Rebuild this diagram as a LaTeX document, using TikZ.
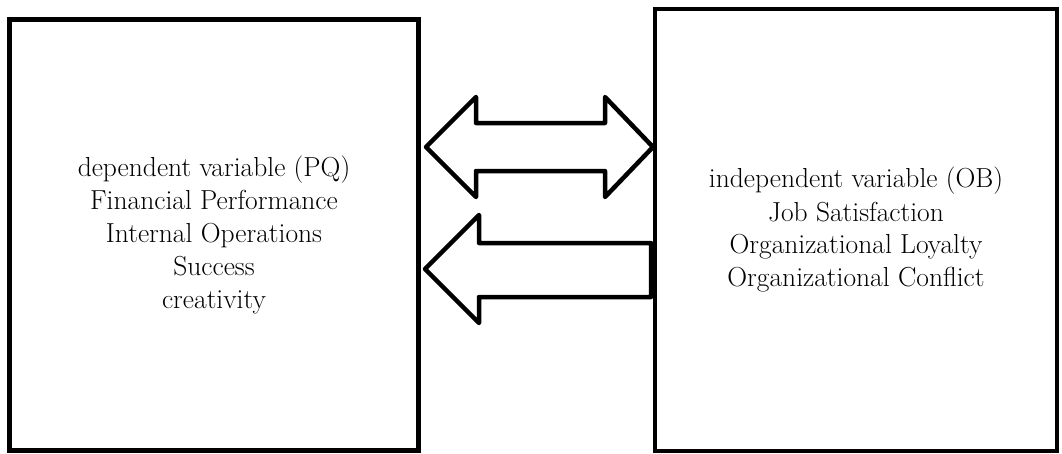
\documentclass[tikz,border=0pt]{standalone}
\usepackage{fontspec}
\usepackage{tikz}
\usetikzlibrary{positioning}

\tikzset{
  varbox/.style={draw, inner sep=0, outer sep=0, align=center,
    font=\fontsize{27.5pt}{33pt}\selectfont},
  blockarrow/.style={draw, fill=white, line width=4.5pt, line join=round},
}

\begin{document}
\begin{tikzpicture}[x=1pt,y=-1pt]
\useasboundingbox (0,0) rectangle (1062,453);
% the two variable boxes
\node[varbox, line width=5pt, minimum width=409pt, minimum height=430.5pt] (dep) at (214,234.75)
  {dependent variable (PQ)\\Financial Performance\\Internal Operations\\Success\\creativity};
\node[varbox, line width=4.5pt, minimum width=402pt, minimum height=442pt] (indep) at (856,230)
  {independent variable (OB)\\Job Satisfaction\\Organizational Loyalty\\Organizational Conflict};
% tips of the arrows
\coordinate (dtipl) at (426,147);
\coordinate (dtipr) at (653,147);
\coordinate (stip) at (425,269);
% double arrow between the boxes
\draw[blockarrow] (dtipl) -- (476,97) -- (476,123) -- (605,123) -- (605,97) -- (dtipr)
  -- (605,197) -- (605,171) -- (476,171) -- (476,197) -- cycle;
% single arrow from indep to dep
\draw[blockarrow] (stip) -- (479,215) -- (479,243) -- (651,243) -- (651,297)
  -- (479,297) -- (479,323) -- cycle;
\end{tikzpicture}
\end{document}
